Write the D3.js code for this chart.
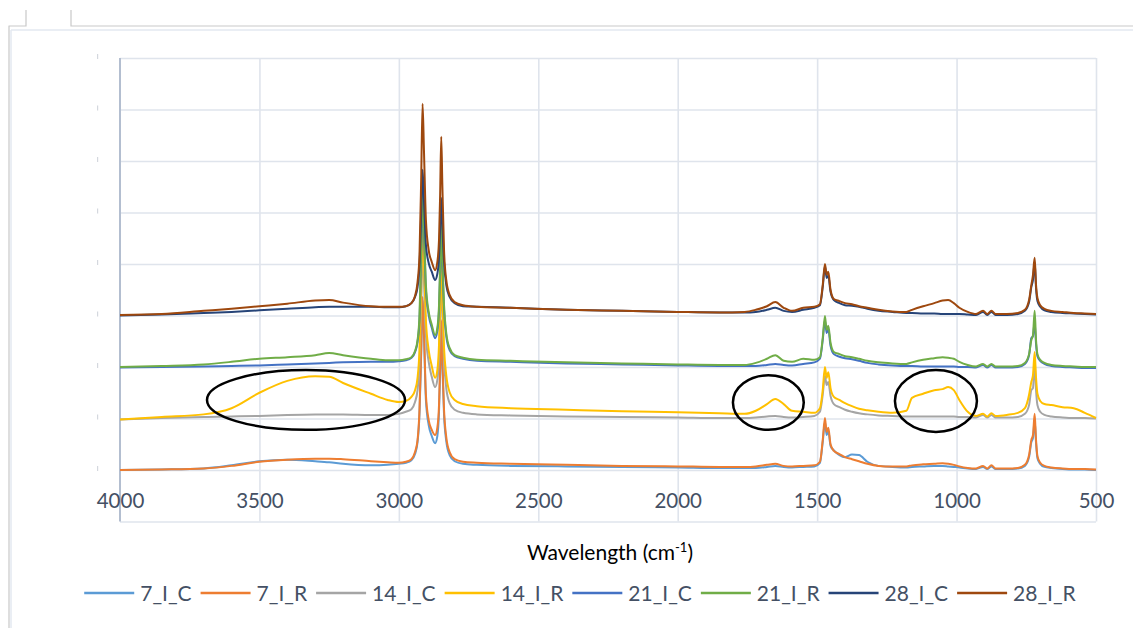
<!DOCTYPE html>
<html>
<head>
<meta charset="utf-8">
<script src="https://cdn.jsdelivr.net/npm/d3@7"></script>
<style>
  html, body { margin: 0; padding: 0; background: #ffffff; }
  svg { display: block; }
  text { font-family: Lato, "Open Sans", sans-serif; }
</style>
</head>
<body>
<svg id="chart" width="1133" height="628"></svg>
<script>
// FTIR spectra, stacked by exposure time (7, 14, 21, 28 days), control (C) and treated (R)

const wavenumber = [4000,3850,3700,3600,3500,3400,3300,3250,3200,3100,
  3040,3000,2975,2955,2942,2933,2926,2920,2915,2910,
  2903,2893,2882,2870,2862,2856,2852,2848,2844,2838,
  2830,2818,2800,2770,2720,2600,2400,2200,2000,1850,
  1760,1720,1680,1650,1620,1590,1550,1510,1490,1480,
  1472,1466,1460,1452,1440,1420,1400,1375,1350,1320,
  1280,1230,1180,1160,1120,1080,1050,1030,1010,990,
  960,930,905,890,875,860,820,780,755,740,
  732,726,720,715,710,700,685,660,620,580,
  540,500];

const s7C = [0.000,0.001,0.003,0.009,0.017,0.020,0.017,0.015,0.012,0.009,
  0.010,0.012,0.014,0.019,0.031,0.054,0.109,0.223,0.330,0.262,
  0.136,0.087,0.066,0.052,0.066,0.113,0.190,0.280,0.202,0.107,
  0.056,0.029,0.017,0.012,0.010,0.008,0.007,0.006,0.005,0.004,
  0.004,0.004,0.006,0.008,0.006,0.005,0.006,0.007,0.014,0.054,
  0.093,0.068,0.076,0.047,0.038,0.029,0.025,0.030,0.029,0.016,
  0.008,0.006,0.005,0.006,0.007,0.008,0.008,0.007,0.006,0.005,
  0.003,0.002,0.006,0.002,0.007,0.002,0.002,0.003,0.008,0.025,
  0.054,0.062,0.097,0.052,0.023,0.012,0.006,0.004,0.002,0.001,
  0.001,0.000];

const s7R = [0.000,0.001,0.003,0.008,0.016,0.020,0.022,0.022,0.021,0.017,
  0.015,0.014,0.016,0.021,0.035,0.058,0.117,0.233,0.336,0.272,
  0.146,0.097,0.078,0.068,0.082,0.126,0.204,0.291,0.214,0.117,
  0.064,0.035,0.021,0.016,0.014,0.012,0.010,0.008,0.007,0.006,
  0.006,0.007,0.010,0.012,0.008,0.007,0.008,0.009,0.016,0.058,
  0.101,0.074,0.082,0.050,0.037,0.031,0.025,0.021,0.017,0.012,
  0.008,0.007,0.007,0.009,0.011,0.012,0.013,0.012,0.010,0.007,
  0.004,0.003,0.008,0.003,0.009,0.003,0.003,0.004,0.010,0.029,
  0.058,0.068,0.109,0.058,0.027,0.014,0.008,0.005,0.003,0.002,
  0.002,0.001];

const s14C = [0.098,0.101,0.103,0.104,0.105,0.107,0.108,0.108,0.108,0.107,
  0.107,0.109,0.113,0.118,0.132,0.155,0.210,0.320,0.431,0.369,
  0.262,0.210,0.181,0.161,0.175,0.219,0.295,0.385,0.307,0.214,
  0.159,0.130,0.117,0.111,0.108,0.106,0.104,0.103,0.102,0.101,
  0.101,0.102,0.104,0.105,0.103,0.102,0.103,0.105,0.113,0.146,
  0.183,0.165,0.171,0.144,0.128,0.122,0.117,0.113,0.110,0.108,
  0.106,0.105,0.104,0.104,0.104,0.104,0.104,0.104,0.104,0.103,
  0.103,0.102,0.107,0.102,0.107,0.102,0.102,0.103,0.109,0.126,
  0.155,0.159,0.210,0.155,0.126,0.113,0.107,0.104,0.102,0.101,
  0.101,0.100];

const s14R = [0.098,0.103,0.108,0.120,0.150,0.173,0.182,0.181,0.169,0.148,
  0.136,0.132,0.134,0.142,0.155,0.179,0.233,0.350,0.466,0.404,
  0.291,0.233,0.202,0.179,0.194,0.243,0.320,0.414,0.330,0.237,
  0.184,0.151,0.136,0.128,0.124,0.120,0.117,0.114,0.112,0.110,
  0.109,0.115,0.128,0.138,0.128,0.115,0.113,0.111,0.120,0.155,
  0.200,0.179,0.190,0.159,0.142,0.136,0.130,0.124,0.119,0.116,
  0.113,0.111,0.115,0.140,0.148,0.155,0.157,0.161,0.155,0.136,
  0.113,0.105,0.109,0.104,0.110,0.105,0.107,0.111,0.120,0.146,
  0.171,0.184,0.229,0.179,0.148,0.134,0.128,0.126,0.122,0.120,
  0.111,0.101];

const s21C = [0.199,0.200,0.201,0.202,0.203,0.205,0.207,0.208,0.209,0.210,
  0.210,0.211,0.213,0.218,0.229,0.249,0.291,0.412,0.524,0.462,
  0.350,0.301,0.276,0.256,0.270,0.311,0.385,0.470,0.396,0.311,
  0.260,0.233,0.221,0.216,0.212,0.210,0.207,0.205,0.203,0.202,
  0.202,0.202,0.204,0.206,0.204,0.203,0.206,0.209,0.216,0.252,
  0.291,0.266,0.274,0.241,0.225,0.220,0.217,0.215,0.212,0.208,
  0.205,0.203,0.202,0.202,0.201,0.201,0.201,0.201,0.201,0.200,
  0.200,0.199,0.204,0.199,0.204,0.199,0.199,0.200,0.206,0.223,
  0.256,0.260,0.287,0.245,0.221,0.212,0.206,0.202,0.200,0.199,
  0.198,0.198];

const s21R = [0.200,0.202,0.205,0.210,0.216,0.219,0.223,0.227,0.223,0.216,
  0.213,0.213,0.215,0.219,0.231,0.252,0.301,0.427,0.540,0.476,
  0.359,0.307,0.282,0.262,0.276,0.320,0.398,0.486,0.408,0.320,
  0.266,0.237,0.223,0.218,0.214,0.212,0.209,0.207,0.205,0.204,
  0.204,0.208,0.216,0.223,0.212,0.210,0.216,0.214,0.219,0.256,
  0.299,0.272,0.280,0.247,0.229,0.225,0.221,0.219,0.216,0.212,
  0.209,0.207,0.206,0.209,0.214,0.217,0.219,0.218,0.216,0.210,
  0.204,0.201,0.206,0.201,0.206,0.201,0.201,0.202,0.208,0.225,
  0.252,0.262,0.309,0.252,0.225,0.214,0.208,0.204,0.202,0.201,
  0.200,0.200];

const s28C = [0.300,0.302,0.305,0.307,0.310,0.313,0.316,0.317,0.317,0.317,
  0.316,0.316,0.318,0.324,0.336,0.355,0.398,0.495,0.583,0.524,
  0.437,0.402,0.385,0.369,0.381,0.412,0.470,0.528,0.476,0.404,
  0.359,0.336,0.324,0.318,0.317,0.315,0.311,0.309,0.307,0.306,
  0.306,0.307,0.311,0.315,0.309,0.307,0.311,0.315,0.320,0.355,
  0.396,0.373,0.377,0.346,0.330,0.324,0.320,0.319,0.317,0.313,
  0.309,0.307,0.305,0.305,0.304,0.304,0.303,0.303,0.303,0.303,
  0.302,0.301,0.307,0.301,0.307,0.301,0.301,0.303,0.309,0.326,
  0.355,0.369,0.404,0.353,0.328,0.317,0.310,0.307,0.305,0.304,
  0.303,0.302];

const s28R = [0.301,0.303,0.309,0.313,0.318,0.323,0.329,0.330,0.325,0.318,
  0.317,0.317,0.318,0.324,0.338,0.365,0.418,0.563,0.711,0.621,
  0.486,0.427,0.404,0.388,0.404,0.447,0.534,0.647,0.553,0.427,
  0.369,0.340,0.326,0.320,0.317,0.315,0.311,0.309,0.307,0.306,
  0.307,0.311,0.318,0.326,0.315,0.309,0.315,0.317,0.322,0.359,
  0.400,0.379,0.385,0.350,0.332,0.328,0.324,0.322,0.318,0.315,
  0.311,0.308,0.307,0.311,0.318,0.324,0.329,0.330,0.324,0.315,
  0.307,0.303,0.309,0.303,0.309,0.303,0.303,0.305,0.311,0.330,
  0.359,0.379,0.412,0.359,0.334,0.320,0.313,0.309,0.307,0.305,
  0.304,0.303];

const seriesNames  = ["7_I_C","7_I_R","14_I_C","14_I_R","21_I_C","21_I_R","28_I_C","28_I_R"];
const seriesValues = [s7C, s7R, s14C, s14R, s21C, s21R, s28C, s28R];
const seriesColors = ["#5B9BD5","#ED7D31","#A5A5A5","#FFC000","#4472C4","#70AD47","#264478","#9E480E"];

const xTicks = [4000,3500,3000,2500,2000,1500,1000,500];
const yTicks = [-0.1,0,0.1,0.2,0.3,0.4,0.5,0.6,0.7,0.8];

// highlighted regions of the 14-day treated spectrum: centre wavenumber / value and half-spans
const noteCentre = [3333, 1675, 1074];
const noteValue  = [0.136, 0.131, 0.134];
const noteSpanX  = [355, 127, 147];
const noteSpanY  = [0.058, 0.053, 0.060];

const svg = d3.select("#chart");
const W = 1133, H = 628;
const plot = {left: 120, right: 1096, top: 58, bottom: 521.5};

svg.append("rect").attr("width", W).attr("height", H).attr("fill", "#ffffff");

// page frame
const frame = svg.append("g").attr("fill", "none");
frame.append("path").attr("d", "M8.5,26 H26 V10 M71,10 V26 H1133 M9,26 V628")
  .attr("stroke", "#c9c9c9").attr("stroke-width", 1.2);
frame.append("path").attr("d", "M11,30 H1133 M11,30 V628")
  .attr("stroke", "#e4e9f1").attr("stroke-width", 1.5);

const x = d3.scaleLinear().domain([4000, 500]).range([plot.left, plot.right]);
const y = d3.scaleLinear().domain([-0.1, 0.8]).range([plot.bottom, plot.top]);

// gridlines
const grid = svg.append("g");
grid.append("g")
  .attr("transform", `translate(${plot.left},0)`)
  .call(d3.axisLeft(y).tickValues(yTicks).tickSize(-(plot.right - plot.left)).tickFormat(""))
  .call(g => g.select(".domain").remove())
  .call(g => g.selectAll("line").attr("stroke", "#dfe4ec").attr("stroke-width", 1.6));
grid.append("g")
  .attr("transform", `translate(0,${plot.bottom})`)
  .call(d3.axisBottom(x).tickValues(xTicks.slice(1)).tickSize(-(plot.bottom - plot.top)).tickFormat(""))
  .call(g => g.select(".domain").remove())
  .call(g => g.selectAll("line").attr("stroke", "#dfe4ec").attr("stroke-width", 1.6));

// vertical axis line (labels fall outside the visible area)
svg.append("line")
  .attr("x1", x(4000)).attr("x2", x(4000))
  .attr("y1", plot.top).attr("y2", plot.bottom)
  .attr("stroke", "#b3bed0").attr("stroke-width", 2);

svg.append("g").selectAll("rect")
  .data(yTicks.slice(1))
  .join("rect")
  .attr("x", 97).attr("width", 1.2)
  .attr("y", d => y(d) - 4).attr("height", 5)
  .attr("fill", "#d4d8de");

// x tick labels
svg.append("g")
  .attr("transform", `translate(0,${y(0)})`)
  .call(d3.axisBottom(x).tickValues(xTicks).tickSize(0).tickPadding(23).tickFormat(d3.format("d")))
  .call(g => g.select(".domain").remove())
  .call(g => g.selectAll("text")
    .attr("fill", "#445064")
    .style("font-size", "20.5px")
    .style("font-family", "Lato, sans-serif"));

// spectra
const line = d3.line()
  .x((d, i) => x(wavenumber[i]))
  .y(d => y(d))
  .curve(d3.curveMonotoneX);

svg.append("g")
  .attr("fill", "none")
  .attr("stroke-width", 2)
  .attr("stroke-linejoin", "round")
  .selectAll("path")
  .data(seriesValues)
  .join("path")
  .attr("stroke", (d, i) => seriesColors[i])
  .attr("d", line);

// annotation ellipses
svg.append("g").selectAll("ellipse")
  .data(noteCentre)
  .join("ellipse")
  .attr("cx", d => x(d))
  .attr("cy", (d, i) => y(noteValue[i]))
  .attr("rx", (d, i) => x(d - noteSpanX[i]) - x(d))
  .attr("ry", (d, i) => y(noteValue[i] - noteSpanY[i]) - y(noteValue[i]))
  .attr("fill", "none")
  .attr("stroke", "#000000")
  .attr("stroke-width", 2.5);

// axis title
const title = svg.append("text")
  .attr("x", 610).attr("y", 560)
  .attr("text-anchor", "middle")
  .attr("fill", "#000000")
  .style("font-size", "21px");
title.append("tspan").text("Wavelength (cm");
title.append("tspan").text("-1").attr("dy", -8).style("font-size", "13px");
title.append("tspan").text(")").attr("dy", 8);

// legend
const legend = svg.append("g");
const items = legend.selectAll("g")
  .data(seriesNames)
  .join("g");
items.append("line")
  .attr("x1", 0).attr("x2", 50)
  .attr("y1", 0).attr("y2", 0)
  .attr("stroke", (d, i) => seriesColors[i])
  .attr("stroke-width", 2.5);
items.append("text")
  .attr("x", 56).attr("y", 7.5)
  .attr("fill", "#445064")
  .style("font-size", "21px")
  .text(d => d);
let cursor = 0;
const offsets = [];
items.each(function() {
  const w = this.querySelector("text").getComputedTextLength();
  offsets.push(cursor);
  cursor += 56 + w + 9;
});
const total = cursor - 9;
const startX = 580 - total / 2;
items.attr("transform", (d, i) => `translate(${startX + offsets[i]},593)`);
</script>
</body>
</html>
